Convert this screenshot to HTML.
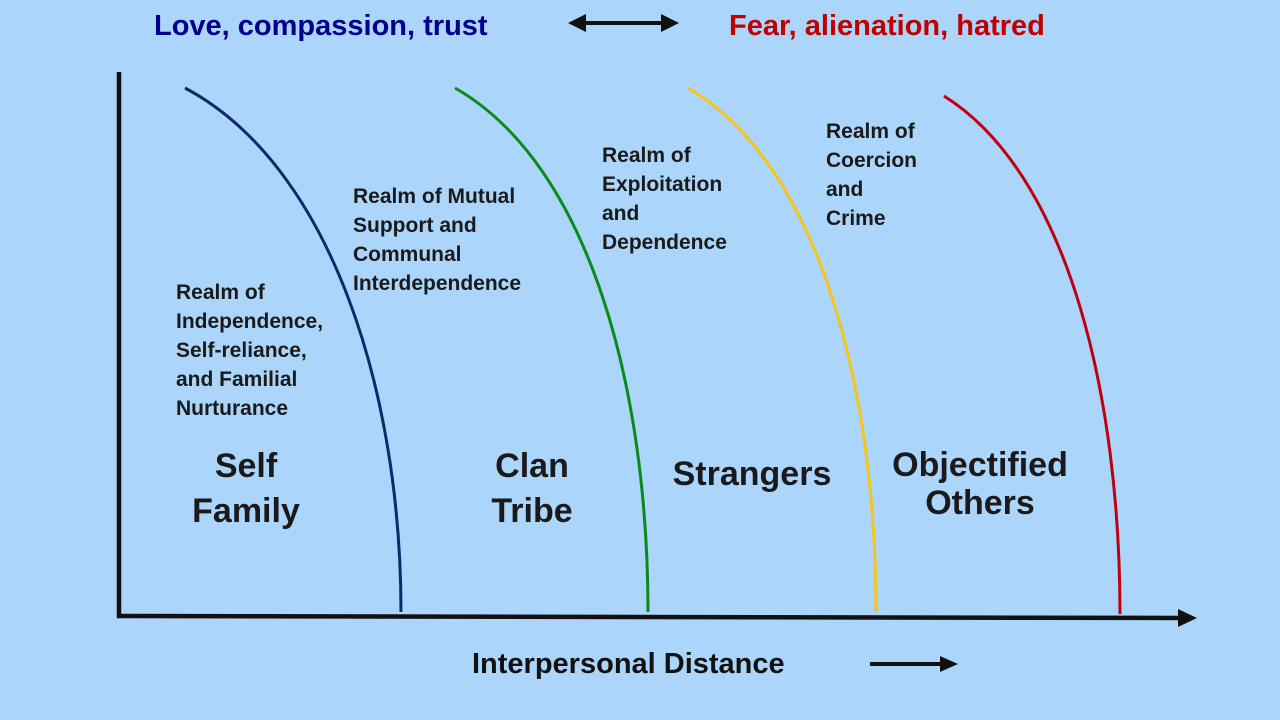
<!DOCTYPE html>
<html><head><meta charset="utf-8"><style>
body{margin:0;background:#acd5fb;}
svg{display:block}
text{font-family:"Liberation Sans",Arial,sans-serif;font-weight:bold;}
</style></head><body>
<svg width="1280" height="720" viewBox="0 0 1280 720">
<rect width="1280" height="720" fill="#acd5fb"/>
<text x="154" y="35" font-size="29" fill="#00008b">Love, compassion, trust</text>
<text x="729" y="35" font-size="29" fill="#c00000">Fear, alienation, hatred</text>
<line x1="584" y1="23" x2="663" y2="23" stroke="#111" stroke-width="4"/>
<polygon points="568,23 586,14 586,32" fill="#111"/>
<polygon points="679,23 661,14 661,32" fill="#111"/>
<line x1="119" y1="72" x2="119" y2="618" stroke="#111" stroke-width="4.5"/>
<line x1="117" y1="616" x2="1182" y2="618" stroke="#111" stroke-width="4.5"/>
<polygon points="1197,618 1178,609 1178,627" fill="#111"/>
<path d="M185,88 C330,165 401,390 401,612" fill="none" stroke="#0d2a6b" stroke-width="3"/>
<path d="M455,88 C590,165 648,390 648,612" fill="none" stroke="#0a8a1a" stroke-width="3"/>
<path d="M688,88 C820,165 876,390 876,612" fill="none" stroke="#f5c518" stroke-width="3"/>
<path d="M944,96 C1070,175 1120,400 1120,614" fill="none" stroke="#c0000f" stroke-width="3"/>
<g font-size="21" fill="#1a1a1a">
<text x="176" y="299">Realm of</text>
<text x="176" y="328">Independence,</text>
<text x="176" y="357">Self-reliance,</text>
<text x="176" y="386">and Familial</text>
<text x="176" y="415">Nurturance</text>
<text x="353" y="203">Realm of Mutual</text>
<text x="353" y="232">Support and</text>
<text x="353" y="261">Communal</text>
<text x="353" y="290">Interdependence</text>
<text x="602" y="162">Realm of</text>
<text x="602" y="191">Exploitation</text>
<text x="602" y="220">and</text>
<text x="602" y="249">Dependence</text>
<text x="826" y="138">Realm of</text>
<text x="826" y="167">Coercion</text>
<text x="826" y="196">and</text>
<text x="826" y="225">Crime</text>
</g>
<g font-size="34" fill="#1a1a1a" text-anchor="middle">
<text x="246" y="477">Self</text>
<text x="246" y="522">Family</text>
<text x="532" y="477">Clan</text>
<text x="532" y="522">Tribe</text>
<text x="752" y="485">Strangers</text>
<text x="980" y="476">Objectified</text>
<text x="980" y="514">Others</text>
</g>
<text x="472" y="673" font-size="29" fill="#111">Interpersonal Distance</text>
<line x1="870" y1="664" x2="942" y2="664" stroke="#111" stroke-width="4"/>
<polygon points="958,664 940,656 940,672" fill="#111"/>
</svg>
</body></html>
